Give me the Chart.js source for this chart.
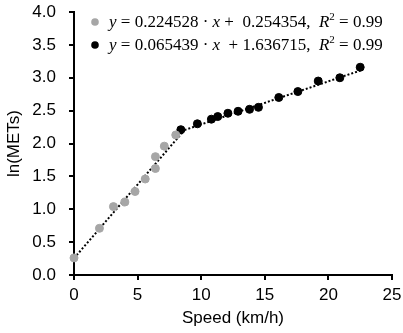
<!DOCTYPE html>
<html>
<head>
<meta charset="utf-8">
<script src="https://cdn.jsdelivr.net/npm/chart.js@4.4.1/dist/chart.umd.min.js"></script>
<style>
  html, body { margin: 0; padding: 0; background: #fff; }
  #wrap { width: 403px; height: 333px; }
</style>
</head>
<body>
<div id="wrap"><canvas id="metsChart" width="403" height="333"></canvas></div>
<script>
// walking-ish speeds (grey) and faster speeds (black)
const lowSpeed = [0, 2.0, 3.1, 4.0, 4.8, 5.6, 6.4, 6.4, 7.1, 8.0];
const lowLnMets = [0.26, 0.71, 1.04, 1.11, 1.27, 1.46, 1.62, 1.80, 1.96, 2.13];

const highSpeed = [8.4, 9.7, 10.8, 11.3, 12.1, 12.9, 13.8, 14.5, 16.1, 17.6, 19.2, 20.9, 22.5];
const highLnMets = [2.21, 2.30, 2.37, 2.41, 2.46, 2.49, 2.52, 2.55, 2.70, 2.79, 2.95, 3.00, 3.16];

// fitted lines (end points)
const lowFitX = [0, 8.69];
const lowFitY = [0.254, 2.205];
const highFitX = [8.69, 22.5];
const highFitY = [2.205, 3.109];

const fitLabels = [
  { color: '#a6a6a6', parts: ['y', ' = 0.224528 · ', 'x', ' +  0.254354,  ', 'R', '2', ' = 0.99'] },
  { color: '#000000', parts: ['y', ' = 0.065439 · ', 'x', '  + 1.636715,  ', 'R', '2', ' = 0.99'] }
];

function toPoints(xs, ys) {
  return xs.map((x, i) => ({ x: x, y: ys[i] }));
}

// draws the equation legend inside the plot, with italic variables
const equationLegend = {
  id: 'equationLegend',
  afterDraw(chart) {
    const ctx = chart.ctx;
    const area = chart.chartArea;
    ctx.save();
    fitLabels.forEach((lab, row) => {
      const y = area.top + 10 + row * 23;
      const x0 = area.left + 21;
      ctx.fillStyle = lab.color;
      ctx.beginPath();
      ctx.arc(x0, y, 3.8, 0, Math.PI * 2);
      ctx.fill();
      ctx.fillStyle = '#000';
      ctx.textBaseline = 'middle';
      let x = x0 + 14;
      lab.parts.forEach((p, i) => {
        const italic = (i === 0 || i === 2 || i === 4);
        const sup = (i === 5);
        ctx.font = (italic ? 'italic ' : '') + (sup ? '11px' : '17px') + ' "Liberation Serif", serif';
        ctx.fillText(p, x, sup ? y - 5 : y + 1);
        x += ctx.measureText(p).width;
      });
    });
    ctx.restore();
  }
};

const axisFont = { family: 'Arial, "Liberation Sans", sans-serif', size: 17 };

const ctx = document.getElementById('metsChart').getContext('2d');
new Chart(ctx, {
  type: 'scatter',
  data: {
    datasets: [
      {
        label: 'low',
        data: toPoints(lowSpeed, lowLnMets),
        backgroundColor: '#a6a6a6',
        borderColor: '#a6a6a6',
        pointRadius: 4,
        clip: false,
        order: 1
      },
      {
        label: 'high',
        data: toPoints(highSpeed, highLnMets),
        backgroundColor: '#000',
        borderColor: '#000',
        pointRadius: 4,
        clip: false,
        order: 1
      },
      {
        type: 'line',
        label: 'fit low',
        data: toPoints(lowFitX, lowFitY),
        borderColor: '#000',
        borderWidth: 2,
        borderDash: [2, 2],
        pointRadius: 0,
        fill: false,
        order: 2
      },
      {
        type: 'line',
        label: 'fit high',
        data: toPoints(highFitX, highFitY),
        borderColor: '#000',
        borderWidth: 2,
        borderDash: [2, 2],
        pointRadius: 0,
        fill: false,
        order: 2
      }
    ]
  },
  options: {
    responsive: false,
    animation: false,
    layout: { padding: { top: 12, right: 11, left: 0, bottom: 0 } },
    plugins: {
      legend: { display: false },
      tooltip: { enabled: false }
    },
    scales: {
      x: {
        type: 'linear',
        min: 0,
        max: 25,
        afterFit: s => { s.height = 58; s.paddingRight = 0; },
        ticks: { stepSize: 5, color: '#000', font: axisFont, padding: 5, maxRotation: 0 },
        grid: { drawOnChartArea: false, drawTicks: true, tickLength: 5, color: '#000', lineWidth: 2 },
        border: { display: true, color: '#000', width: 2 },
        title: { display: true, text: 'Speed (km/h)', color: '#000', font: axisFont, padding: { top: 0 } }
      },
      y: {
        min: 0,
        max: 4,
        afterFit: s => { s.width = 74; s.paddingTop = 0; },
        ticks: {
          stepSize: 0.5,
          color: '#000',
          font: axisFont,
          padding: 13,
          callback: v => v.toFixed(1)
        },
        grid: { drawOnChartArea: false, drawTicks: true, tickLength: 5, color: '#000', lineWidth: 2 },
        border: { display: true, color: '#000', width: 2 },
        title: { display: true, text: 'ln(METs)', color: '#000', font: axisFont, padding: { bottom: 0 } }
      }
    }
  },
  plugins: [equationLegend]
});
</script>
</body>
</html>
